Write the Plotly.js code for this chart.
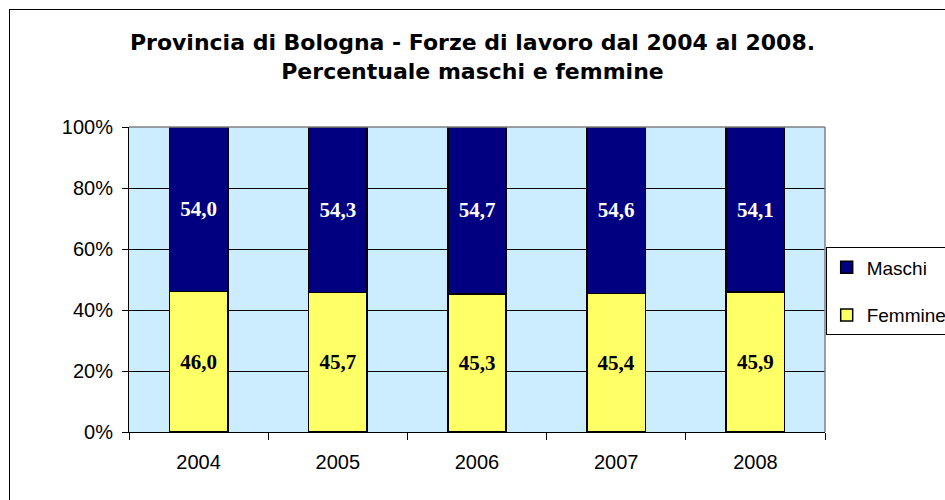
<!DOCTYPE html>
<html>
<head>
<meta charset="utf-8">
<script src="https://cdn.plot.ly/plotly-3.0.1.min.js"></script>
<style>
  html, body { margin: 0; padding: 0; background: #fff; }
  #wrap { position: relative; width: 945px; height: 500px; overflow: hidden; }
  #chart { position: absolute; left: 0; top: 0; width: 945px; height: 500px; }
  #frame { position: absolute; left: 9px; top: 9px; width: 1000px; height: 600px;
           border: 1px solid #000; pointer-events: none; box-sizing: border-box; }
</style>
</head>
<body>
<div id="wrap">
  <div id="chart"></div>
  <div id="frame"></div>
</div>
<script>
const years = ['2004', '2005', '2006', '2007', '2008'];
const maschi = [54.0, 54.3, 54.7, 54.6, 54.1];
const femmine = [46.0, 45.7, 45.3, 45.4, 45.9];
const yTicks = [0, 20, 40, 60, 80, 100];

const labelFont = { family: 'Liberation Serif, Times New Roman, serif', size: 21, weight: 'bold' };

const traces = [
  {
    type: 'bar', name: 'Femmine', x: years, y: femmine, legendgroup: 'f', legendrank: 2,
    marker: { color: '#FFFF66', line: { color: '#000', width: 1.5 } },
    texttemplate: '%{y:.1f}', textposition: 'inside',
    insidetextanchor: 'middle', textangle: 0, constraintext: 'none',
    textfont: Object.assign({ color: '#000' }, labelFont), hoverinfo: 'skip'
  },
  {
    type: 'bar', name: 'Maschi', x: years, y: maschi, legendgroup: 'm', legendrank: 1,
    marker: { color: '#000080', line: { color: '#000', width: 1.5 } },
    texttemplate: '%{y:.1f}', textposition: 'inside',
    insidetextanchor: 'middle', textangle: 0, constraintext: 'none',
    textfont: Object.assign({ color: '#fff' }, labelFont), hoverinfo: 'skip'
  }
];

const layout = {
  width: 945, height: 500,
  separators: ',.',
  barmode: 'stack',
  bargap: 0.58,
  paper_bgcolor: 'rgba(0,0,0,0)',
  plot_bgcolor: '#CCECFF',
  font: { family: 'Liberation Sans, Arial, sans-serif', size: 20, color: '#000' },
  margin: { l: 129, r: 120, t: 127, b: 68, autoexpand: false },
  title: {
    text: 'Provincia di Bologna - Forze di lavoro dal 2004 al 2008.<br>Percentuale maschi e femmine',
    font: { family: 'DejaVu Sans, Liberation Sans, Arial, sans-serif', size: 22, weight: 'bold', color: '#000' },
    x: 0.5, xref: 'container', xanchor: 'center',
    y: 0.90, yref: 'container', yanchor: 'top'
  },
  xaxis: {
    type: 'category',
    showline: true, linecolor: '#000', linewidth: 1,
    ticks: 'outside', tickson: 'boundaries', ticklen: 7, tickcolor: '#000', tickwidth: 1,
    ticklabelstandoff: 12,
    showgrid: false, fixedrange: true
  },
  yaxis: {
    range: [0, 100],
    tickvals: yTicks, ticktext: yTicks.map(v => v + '%'),
    showline: true, linecolor: '#000', linewidth: 1,
    ticks: 'outside', ticklen: 6, tickcolor: '#000', tickwidth: 1,
    ticklabelstandoff: 5,
    showgrid: true, gridcolor: '#000', gridwidth: 1,
    zeroline: false, fixedrange: true
  },
  shapes: [
    { type: 'line', xref: 'paper', yref: 'paper', x0: 0, x1: 1, y0: 1, y1: 1,
      line: { color: '#808080', width: 1.5 }, layer: 'above' },
    { type: 'line', xref: 'paper', yref: 'paper', x0: 1, x1: 1, y0: 0, y1: 1,
      line: { color: '#808080', width: 1.5 }, layer: 'above' }
  ],
  showlegend: true,
  legend: {
    x: 1.001, xanchor: 'left', y: 0.605, yanchor: 'top',
    traceorder: 'grouped', tracegroupgap: 20,
    bgcolor: '#fff', bordercolor: '#000', borderwidth: 1,
    font: { family: 'Liberation Sans, Arial, sans-serif', size: 19, color: '#000' }
  }
};

Plotly.newPlot('chart', traces, layout, { displayModeBar: false, staticPlot: true });
</script>
</body>
</html>
